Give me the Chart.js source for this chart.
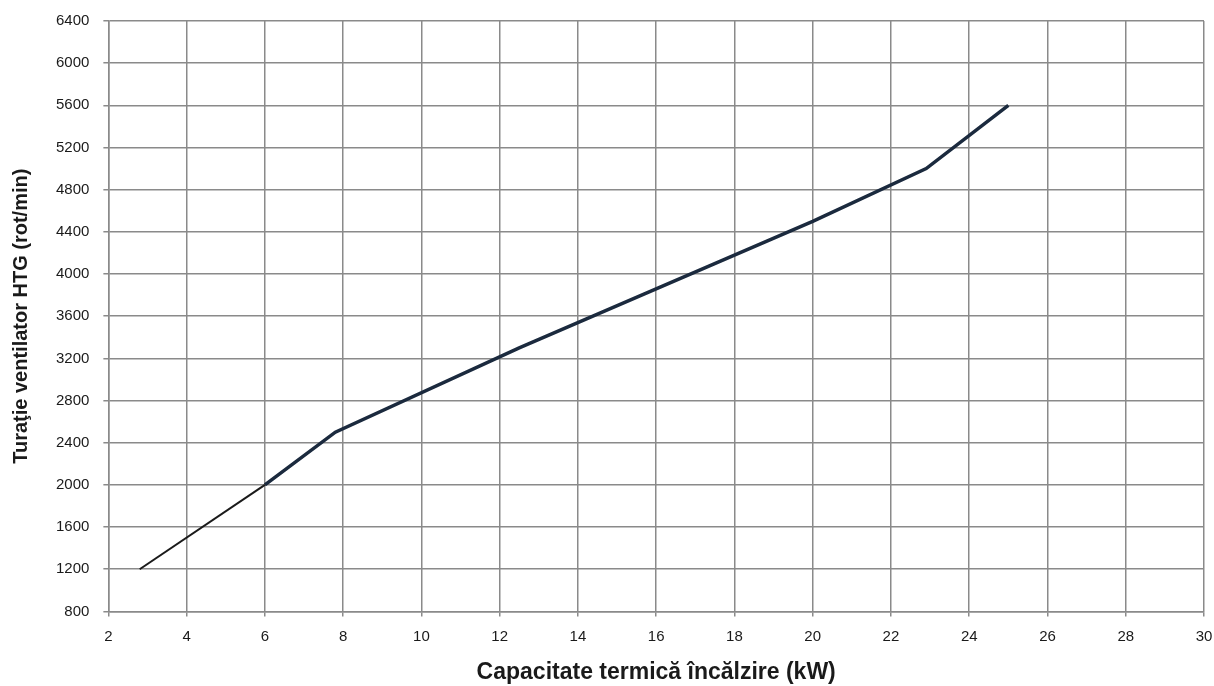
<!DOCTYPE html>
<html>
<head>
<meta charset="utf-8">
<script src="https://cdn.jsdelivr.net/npm/chart.js@4/dist/chart.umd.min.js"></script>
<style>
  html, body { margin: 0; padding: 0; background: #fff; }
  #wrap { width: 1214px; height: 686px; }
</style>
</head>
<body>
<div id="wrap"><canvas id="chart" width="1214" height="686"></canvas></div>
<script>
// debut de courbe (trait fin)
const lowKw = [2.8, 6];
const lowRpm = [1200, 2000];
// reste de la courbe (trait epais)
const highKw = [6, 7.8, 12.5, 20, 22.9, 25];
const highRpm = [2000, 2500, 3300, 4500, 5000, 5600];

const xTitle = 'Capacitate termică încălzire (kW)';
const yTitle = 'Turaţie ventilator HTG (rot/min)';

function toPoints(xs, ys) {
    return xs.map((x, i) => ({ x: x, y: ys[i] }));
}

const tickFont = { family: 'Liberation Sans, Arial', size: 15 };

const ctx = document.getElementById('chart').getContext('2d');
new Chart(ctx, {
    type: 'scatter',
    data: {
        datasets: [
            {
                data: toPoints(lowKw, lowRpm),
                showLine: true,
                borderColor: '#1a1a1a',
                borderWidth: 2,
                pointRadius: 0,
                tension: 0
            },
            {
                data: toPoints(highKw, highRpm),
                showLine: true,
                borderColor: '#1b2a3e',
                borderWidth: 3.5,
                pointRadius: 0,
                tension: 0
            }
        ]
    },
    options: {
        responsive: false,
        animation: false,
        layout: { autoPadding: false, padding: { top: 21, right: 10, left: 4, bottom: 0 } },
        plugins: {
            legend: { display: false },
            tooltip: { enabled: false }
        },
        scales: {
            x: {
                type: 'linear',
                min: 2,
                max: 30,
                afterFit: s => { s.paddingLeft = 0; s.paddingRight = 0; },
                ticks: {
                    stepSize: 2,
                    color: '#1a1a1a',
                    font: tickFont,
                    padding: 11,
                    maxRotation: 0,
                    callback: v => String(v)
                },
                grid: { color: '#8a8a8a', lineWidth: 1.5, tickLength: 5 },
                border: { color: '#8a8a8a', width: 1.5 },
                title: {
                    display: true,
                    text: xTitle,
                    color: '#1a1a1a',
                    font: { family: 'Liberation Sans, Arial', size: 23, weight: 'bold' },
                    padding: { top: 2, bottom: 0 }
                }
            },
            y: {
                type: 'linear',
                min: 800,
                max: 6400,
                afterFit: s => { s.paddingTop = 0; s.paddingBottom = 0; },
                ticks: {
                    stepSize: 400,
                    color: '#1a1a1a',
                    font: tickFont,
                    padding: 14,
                    callback: v => String(v)
                },
                grid: { color: '#8a8a8a', lineWidth: 1.5, tickLength: 5 },
                border: { color: '#8a8a8a', width: 1.5 },
                title: {
                    display: true,
                    text: yTitle,
                    color: '#1a1a1a',
                    font: { family: 'Liberation Sans, Arial', size: 20, weight: 'bold' },
                    padding: { top: 5, bottom: 9 }
                }
            }
        }
    }
});
</script>
</body>
</html>
